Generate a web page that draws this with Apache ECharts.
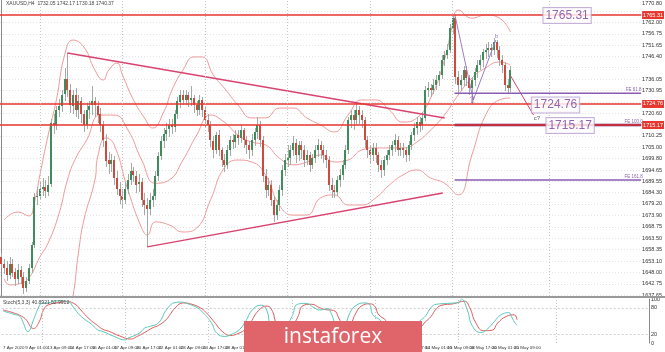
<!DOCTYPE html>
<html>
<head>
<meta charset="utf-8">
<script src="https://cdn.jsdelivr.net/npm/echarts@6/dist/echarts.min.js"></script>
<style>html,body{margin:0;padding:0;background:#fff}#main{width:665px;height:352px}</style>
</head>
<body>
<div id="main"></div>
<script>
// XAUUSD H4, [open, close, low, high]
const candles = [
  [1655,1652,1650,1657],
  [1652,1650,1647,1654],[1650,1647,1644,1653],[1647,1652,1645,1655],[1652,1648,1646,1654],[1648,1645,1642,1650],
  [1645,1649,1643,1652],[1649,1646,1643,1651],[1646,1641,1638,1648],[1641,1644,1639,1646],[1644,1650,1643,1652],
  [1650,1660.5,1648,1662],[1660.5,1682.5,1659,1684],[1682.5,1683,1679,1687],[1683,1686,1681,1689],[1686,1687,1683,1691],
  [1687,1685,1682,1690],[1685,1688,1683,1692],[1688,1716,1687,1718],[1716,1715,1711,1720],[1715,1722,1713,1724],
  [1722,1724,1719,1727],[1724,1729,1721,1731],[1729,1736,1726,1741],[1736,1731,1728,1748],[1731,1724,1721,1734],
  [1724,1729,1720,1731],[1729,1722,1719,1732],[1722,1726,1718,1729],[1726,1720,1716,1728],[1720,1715,1712,1722],
  [1715,1722,1713,1725],[1722,1724,1718,1726],[1724,1726,1720,1733],[1726,1724,1719,1728],[1724,1720,1716,1726],
  [1720,1715,1712,1723],[1715,1708,1705,1717],[1708,1699,1696,1711],[1699,1697,1693,1703],[1697,1699,1694,1702],
  [1699,1691,1688,1701],[1691,1686,1683,1694],[1686,1683,1679,1689],[1683,1681,1677,1686],[1681,1686,1679,1689],
  [1686,1690,1684,1693],[1690,1694,1688,1698],[1694,1692,1689,1696],[1692,1688,1684,1694],[1688,1689,1685,1693],
  [1689,1681,1678,1691],[1681,1678.7,1674,1684],[1678.7,1677,1659.6,1682],[1677,1681,1674,1684],[1681,1683,1678,1686],
  [1683,1692,1681,1694],[1692,1701,1690,1703],[1701,1708,1699,1710],[1708,1711,1705,1714],[1711,1713,1708,1716],
  [1713,1715,1710,1718],[1715,1714,1711,1718],[1714,1720,1712,1722],[1720,1726,1718,1728],[1726,1729,1723,1731],
  [1729,1726.6,1724,1731],[1726.6,1728.8,1724,1731],[1728.8,1726.6,1723,1730],[1726.6,1727.5,1724,1733],[1727.5,1724.3,1721,1729],
  [1724.3,1722,1719,1726],[1722,1726.6,1720,1729],[1726.6,1722,1719,1728],[1722,1717.5,1714,1724],[1717.5,1715,1712,1720],
  [1715,1708,1705,1717],[1708,1703.8,1700,1710],[1703.8,1710.6,1702,1712],[1710.6,1703.8,1701,1713],[1703.8,1699.2,1696,1705],
  [1699.2,1697,1694,1702],[1697,1703.8,1695,1706],[1703.8,1708.3,1701,1710],[1708.3,1707.4,1704,1711],[1707.4,1710.6,1705,1713],
  [1710.6,1709.2,1706,1713],[1709.2,1712.9,1707,1715],[1712.9,1708.3,1705,1714],[1708.3,1706,1702,1710],[1706,1703.8,1700,1708],
  [1703.8,1708.3,1701,1711],[1708.3,1712,1706,1714],[1712,1715,1709,1719],[1715,1708.3,1705,1717],[1708.3,1692,1689,1710],
  [1692,1685.5,1682,1695],[1685.5,1688,1683,1691],[1688,1681,1678,1690],[1681,1674,1671,1683],[1674,1678.7,1672,1681],
  [1678.7,1685.5,1676,1688],[1685.5,1694.7,1683,1697],[1694.7,1699.2,1692,1702],[1699.2,1700,1696,1706],[1700,1703.8,1697,1706],
  [1703.8,1707,1701,1710],[1707,1701.5,1698,1709],[1701.5,1706,1699,1708],[1706,1703.8,1700,1708],[1703.8,1699.2,1696,1706],
  [1699.2,1701.5,1697,1704],[1701.5,1697,1694,1703],[1697,1700,1695,1702],[1700,1703.8,1698,1706],[1703.8,1706,1701,1709],
  [1706,1703.8,1700,1708],[1703.8,1701.5,1698,1706],[1701.5,1699.2,1696,1704],[1699.2,1688,1685,1701],[1688,1685.5,1682,1691],
  [1685.5,1684.6,1681.9,1688],[1684.6,1690,1683,1692],[1690,1692.4,1687,1695],[1692.4,1697,1690,1699],[1697,1703.8,1695,1706],
  [1703.8,1717.5,1702,1719],[1717.5,1719.7,1714,1722],[1719.7,1717.5,1713,1722],[1717.5,1722,1715,1725],[1722,1719.7,1716,1724],
  [1719.7,1717.5,1714,1722],[1717.5,1708.3,1705,1719],[1708.3,1703.8,1700,1710],[1703.8,1701.5,1698,1706],[1701.5,1704.7,1699,1707],
  [1704.7,1701.5,1698,1707],[1701.5,1697,1694,1703],[1697,1694.7,1691,1699],[1694.7,1699.2,1692,1701],[1699.2,1701.5,1697,1704],
  [1701.5,1703.8,1699,1706],[1703.8,1706,1701,1708],[1706,1708.3,1703,1711],[1708.3,1703.8,1701,1710],[1703.8,1704.7,1701,1707],
  [1704.7,1703.8,1700,1707],[1703.8,1701.5,1698,1705],[1701.5,1706,1699,1708],[1706,1710.6,1704,1712],[1710.6,1713.8,1708,1716],
  [1713.8,1716.6,1711,1719],[1716.6,1715,1712,1719],[1715,1718.4,1713,1721],[1718.4,1731,1717,1733],[1731,1732,1728,1735],
  [1732,1731,1728,1734],[1731,1733.4,1729,1736],[1733.4,1735.7,1731,1738],[1735.7,1737.9,1733,1740],[1737.9,1744.8,1736,1747],
  [1744.8,1747,1742,1749],[1747,1749.4,1745,1752],[1749.4,1759.4,1748,1761],[1759.4,1764,1757,1765],[1764,1737,1734,1765.3],
  [1737,1733.4,1730,1740],[1733.4,1735.7,1731,1738],[1735.7,1740.2,1733,1742],[1740.2,1736.4,1733,1742],[1736.4,1732,1729,1738],
  [1732,1735.7,1724.8,1737],[1735.7,1739.3,1733,1741],[1739.3,1742.5,1737,1745],[1742.5,1744.8,1740,1747],[1744.8,1748.4,1742,1750],
  [1748.4,1749.4,1745,1752],[1749.4,1750.3,1746,1753],[1750.3,1749.4,1746,1752],[1749.4,1753,1747,1754.8],[1753,1749.4,1746,1754],
  [1749.4,1744.8,1742,1751],[1744.8,1742.5,1739,1747],[1742.5,1733.4,1731,1744],[1733.4,1732,1729,1736],[1732,1740.4,1730,1742]
];

// bollinger bands [bar, price]
const bbUpper = [[1,1671.9],[6,1675.5],[10,1673.7],[12,1680],[14,1692.4],[17,1710.6],[20,1726.6],[23,1747.1],[26,1753.9],[30,1750.7],[34,1740.2],[37,1735.7],[39,1740.2],[42,1743.4],[44,1738],[48,1726.6],[52,1718.4],[55,1713.8],[59,1721.1],[62,1731.1],[66,1740.2],[70,1746.2],[73,1746.2],[77,1738],[81,1732],[86,1724.3],[91,1718.4],[96,1718.4],[101,1722.9],[106,1722.9],[111,1718.4],[116,1715.2],[121,1712],[126,1719.7],[131,1726.6],[136,1726.6],[141,1722],[146,1716.5],[151,1718.4],[156,1727.5],[161,1744.8],[164,1760.8],[166,1767.6],[171,1763.9],[176,1765.3],[181,1763.9],[185,1757.6]];
const bbMiddle = [[1,1645],[3,1642.3],[7,1643],[10,1645.4],[14,1655],[17,1661.4],[21,1675],[24,1690.1],[27,1700],[31,1708.3],[36,1719.7],[41,1719.7],[46,1712.9],[51,1699.2],[56,1688.6],[61,1690.1],[66,1699.2],[71,1710.6],[76,1719.7],[81,1716.5],[86,1710.6],[91,1707.4],[96,1706.1],[101,1700.1],[106,1697],[111,1698.3],[116,1701.5],[121,1698.3],[126,1699.2],[131,1703.8],[136,1704.7],[141,1704.7],[146,1704.7],[151,1707.4],[156,1712.9],[161,1719.7],[166,1728.8],[171,1736.6],[176,1741.2],[181,1743.9],[185,1742.5]];
const bbLower = [[1,1630.9],[6,1630],[11,1627.2],[16,1617.2],[21,1603.5],[26,1636.8],[28,1656.8],[30,1671.9],[34,1690.1],[35,1700.6],[38,1709.3],[41,1706.1],[46,1685.5],[51,1668.2],[53,1665],[56,1671],[61,1669.6],[66,1666.4],[71,1668.2],[76,1681],[81,1695.6],[86,1699.2],[91,1698.3],[96,1692.4],[101,1678.7],[106,1674.1],[111,1674.1],[116,1681.9],[121,1683.3],[126,1678.7],[131,1678.7],[136,1681.9],[141,1687.8],[146,1692.4],[151,1694.7],[156,1691],[161,1688.7],[166,1683.3],[171,1701.5],[176,1719.7],[181,1726.6],[185,1727.5]];

// stochastic [bar, value]
const stochMain = [[0,73],[2,69],[4,65],[6,61],[7,50],[9,26],[11,53],[13,84],[14,90],[17,92],[20,96],[24,92],[25,84],[28,61],[32,42],[34,30],[36,26],[40,15],[44,7],[45,11],[49,22],[51,34],[53,38],[56,46],[59,77],[62,92],[64,93],[67,88],[70,80],[72,69],[75,46],[77,22],[80,15],[82,19],[85,30],[87,46],[90,77],[93,86],[95,73],[96,46],[98,20],[101,30],[104,60],[106,88],[109,90],[112,80],[114,75],[117,78],[118,69],[121,30],[123,40],[125,70],[127,85],[130,91],[132,87],[133,65],[136,50],[138,25],[141,35],[145,40],[148,35],[150,50],[152,61],[154,80],[156,88],[160,90],[164,92],[165,100],[167,77],[169,38],[172,24],[174,30],[177,50],[179,63],[182,69],[183,60],[184,48],[185,40]];
const stochSignal = [[0,75],[3,70],[6,63],[8,55],[11,33],[13,48],[15,80],[17,88],[20,92],[23,94],[26,88],[28,75],[31,55],[34,40],[36,31],[38,27],[42,16],[46,9],[48,14],[51,24],[54,35],[56,40],[59,55],[62,80],[65,91],[68,88],[71,80],[73,70],[76,48],[79,26],[82,17],[84,20],[87,30],[89,46],[92,74],[95,84],[97,72],[98,50],[100,26],[103,29],[106,58],[108,85],[111,88],[114,80],[116,76],[119,74],[121,55],[123,33],[125,42],[127,68],[129,84],[132,89],[134,82],[135,66],[138,50],[140,29],[143,34],[147,39],[150,37],[152,48],[154,60],[156,78],[158,86],[162,89],[166,95],[168,80],[170,48],[173,28],[176,29],[178,45],[181,60],[184,64],[185,53]];

const xLabels = ['7 Apr 2020','9 Apr 01:00','13 Apr 09:00','14 Apr 17:00','16 Apr 01:00','17 Apr 09:00','20 Apr 17:00','22 Apr 01:00','23 Apr 09:00','24 Apr 17:00','28 Apr 01:00','29 Apr 09:00','30 Apr 17:00','4 May 01:00','5 May 09:00','6 May 17:00','8 May 01:00','11 May 09:00','12 May 17:00','14 May 01:00','15 May 09:00','18 May 17:00','20 May 01:00','21 May 09:00'];
const priceGrid = [1637.65,1642.75,1648.00,1653.10,1658.35,1663.50,1668.75,1673.90,1679.20,1684.30,1689.55,1694.65,1699.80,1705.00,1710.25,1715.35,1720.60,1725.75,1730.95,1736.05,1741.30,1746.40,1751.65,1756.75,1762.00,1767.10];
const priceLabels = [1637.65,1642.75,1648.00,1653.10,1658.35,1663.50,1668.75,1673.90,1679.20,1684.30,1689.55,1694.65,1699.80,1705.00,1710.25,1720.60,1730.95,1736.05,1746.40,1751.65,1756.75,1762.00,1770.80];
const stochLabels = [0,20,80,100];

const levels = [1765.31,1724.76,1715.17];
const lastPrice = 1740.37;
const weekStarts = [14,44,74,104,134,164,199];

const trendLines = [
  [[24,1748],[161.1,1718.4]],
  [[53,1659.6],[160.4,1684.2]]
];
const waveAB = [[165,1764.4],[171.5,1726.6],[179.7,1753.9]];
const waveC = [[185.1,1737.5],[193.4,1719.7]];
const fibLevels = [1729.6,1715.17,1690.1];
const fibNames = ['FE 61.8','FE 100.0','FE 161.8'];

const N = 233;
const cats = [];
for (let i = 0; i < N; i++) cats.push(i % 8 === 0 && xLabels[i / 8] ? xLabels[i / 8] : '');

function renderCandle(params, api) {
  const i = api.value(0);
  const o = api.value(1), c = api.value(2), l = api.value(3), h = api.value(4);
  const top = api.coord([i, Math.max(o, c)]);
  const bot = api.coord([i, Math.min(o, c)]);
  const hi = api.coord([i, h]);
  const lo = api.coord([i, l]);
  const x = Math.round(top[0]);
  return {
    type: 'group',
    children: [
      {type: 'rect', shape: {x: x, y: Math.round(hi[1]), width: 1, height: Math.max(1, Math.round(lo[1] - hi[1]))}, style: {fill: '#a4aba7'}},
      {type: 'rect', shape: {x: x - 1, y: Math.round(top[1]), width: 2, height: Math.max(1, Math.round(bot[1] - top[1]))}, style: {fill: c >= o ? '#3f8d5b' : '#cd4a3f'}}
    ]
  };
}

const tiny = {fontSize: 5.5, fontFamily: 'Arial', color: '#333'};
const bandStyle = {color: '#f09a9a', width: 1};

function overlay(data, color, width) {
  return {type: 'line', xAxisIndex: 2, yAxisIndex: 0, data: data, symbol: 'none', silent: true,
    lineStyle: {color: color, width: width}, z: 4};
}

const series = [
  {type: 'custom', xAxisIndex: 0, yAxisIndex: 0, renderItem: renderCandle,
    encode: {x: 0, y: [1, 2, 3, 4]}, data: candles.map((d, i) => [i].concat(d)), z: 3, clip: true},
  {type: 'line', xAxisIndex: 2, yAxisIndex: 0, data: bbUpper, smooth: true, symbol: 'none', lineStyle: bandStyle, silent: true, z: 2,
    markLine: {silent: true, symbol: ['none', 'none'], animation: false,
      data: levels.map(v => ({yAxis: v, lineStyle: {color: '#e8362f', width: 1.5, type: 'solid'},
        label: {show: true, position: 'end', distance: 1, formatter: v.toFixed(2), backgroundColor: '#e8362f', color: '#fff', fontSize: 5.5, padding: [1, 1]}}))
        .concat([{yAxis: lastPrice, lineStyle: {opacity: 0},
          label: {show: true, position: 'end', distance: 1, formatter: lastPrice.toFixed(2), backgroundColor: '#d4d4d4', color: '#111', fontSize: 5.5, padding: [1, 1]}}])
    }},
  {type: 'line', xAxisIndex: 2, yAxisIndex: 0, data: bbMiddle, smooth: true, symbol: 'none', lineStyle: bandStyle, silent: true, z: 2,
    markLine: {silent: true, symbol: ['none', 'none'], animation: false, label: {show: false},
      lineStyle: {color: '#c4c4c4', type: [1, 2], width: 1},
      data: weekStarts.map(v => ({xAxis: v}))}},
  {type: 'line', xAxisIndex: 2, yAxisIndex: 0, data: bbLower, smooth: true, symbol: 'none', lineStyle: bandStyle, silent: true, z: 2},
  overlay(trendLines[0], '#d8436f', 1.5),
  overlay(trendLines[1], '#d8436f', 1.5),
  overlay(waveAB, '#a07cc4', 1),
  overlay(waveC, '#d8436f', 1),
  overlay([[164.7, fibLevels[0]], [232.5, fibLevels[0]]], '#8a5cb4', 1.5),
  overlay([[164.7, fibLevels[1]], [232.5, fibLevels[1]]], '#5e1b6e', 2.5),
  overlay([[164.7, fibLevels[2]], [232.5, fibLevels[2]]], '#8a5cb4', 1.5),
  {type: 'scatter', xAxisIndex: 2, yAxisIndex: 0, symbolSize: 0.1, itemStyle: {color: 'transparent'}, silent: true, z: 6,
    label: {show: true, position: 'inside'},
    data: [
      {value: [205.6, 1765.1], label: {formatter: '1765.31'}},
      {value: [201.4, 1724.3], label: {formatter: '1724.76'}},
      {value: [206.7, 1714.9], label: {formatter: '1715.17'}}
    ].map(d => Object.assign(d, {label: Object.assign(d.label, {color: '#7b3a9e', fontSize: 12, fontFamily: 'Arial',
      backgroundColor: '#fff', borderColor: '#b89fd0', borderWidth: 1, padding: [2, 2, 1, 2]})}))
      .concat(fibLevels.map((v, k) => ({value: [229.8, v + 1.6], label: {formatter: fibNames[k], fontSize: 4.5, color: '#6a3d8f'}})))
      .concat([
        {value: [171, 1726.4], label: {formatter: '⇧', fontSize: 10, color: '#8a4fb0'}},
        {value: [180, 1755.5], label: {formatter: 'b', fontSize: 6, color: '#8a4fb0'}},
        {value: [194.6, 1718.4], label: {formatter: 'c?', fontSize: 6, color: '#333'}}
      ])
  },
  {type: 'line', xAxisIndex: 1, yAxisIndex: 1, data: stochSignal, smooth: true, symbol: 'none', silent: true,
    lineStyle: {color: '#e25c5c', width: 1}},
  {type: 'line', xAxisIndex: 1, yAxisIndex: 1, data: stochMain, smooth: true, symbol: 'none', silent: true,
    lineStyle: {color: '#5cc6b9', width: 1},
    markLine: {silent: true, symbol: ['none', 'none'], animation: false, label: {show: false},
      lineStyle: {color: '#c4c4c4', type: [1, 2], width: 1},
      data: weekStarts.map(v => ({xAxis: v}))}}
];

const chart = echarts.init(document.getElementById('main'));
chart.setOption({
  animation: false,
  backgroundColor: '#fff',
  grid: [
    {left: 0, right: 16, top: 0, height: 296},
    {left: 0, right: 16, top: 299, height: 44}
  ],
  xAxis: [
    {type: 'category', gridIndex: 0, data: cats, axisLine: {show: false}, axisTick: {show: false}, axisLabel: {show: false}, splitLine: {show: false}},
    {type: 'category', gridIndex: 1, data: cats, axisLine: {show: false}, axisTick: {show: false},
      axisLabel: {interval: 7, align: 'left', margin: 3, fontSize: 4.4, fontFamily: 'Arial', color: '#333', showMinLabel: true, hideOverlap: false},
      splitLine: {show: false}},
    {type: 'value', gridIndex: 0, position: 'top', min: -0.5, max: N - 0.5, show: false}
  ],
  yAxis: [
    {type: 'value', gridIndex: 0, position: 'right', min: 1637.2, max: 1772.15,
      axisLine: {show: true, lineStyle: {color: '#8a8a8a'}},
      axisTick: {show: false, customValues: priceGrid},
      axisLabel: Object.assign({customValues: priceLabels, margin: 1, formatter: v => v.toFixed(2)}, tiny),
      splitLine: {show: true, lineStyle: {color: '#e3e3e3', type: [1, 2]}}},
    {type: 'value', gridIndex: 1, position: 'right', min: 0, max: 100,
      axisLine: {show: true, lineStyle: {color: '#8a8a8a'}},
      axisTick: {show: false, customValues: [20, 80]},
      axisLabel: Object.assign({customValues: stochLabels, margin: 2}, tiny),
      splitLine: {show: true, lineStyle: {color: '#cfcfcf', type: [2, 2]}}}
  ],
  graphic: [
    {type: 'rect', left: 0, top: 296, shape: {width: 665, height: 2}, style: {fill: '#9a9a9a'}, z: 50},
    {type: 'text', left: 6, top: 1, style: {text: 'XAUUSD,H4  1732.05 1742.17 1730.18 1740.37', fontSize: 5, fontFamily: 'Arial', fill: '#444'}, z: 50},
    {type: 'text', left: 3, top: 300, style: {text: 'Stoch(5,3,3) 40.8921 52.9912', fontSize: 5, fontFamily: 'Arial', fill: '#444'}, z: 50},
    {type: 'rect', left: 244, top: 321, shape: {width: 178, height: 31}, style: {fill: '#e0656b'}, z: 100},
    {type: 'text', x: 333, y: 337, style: {text: 'instaforex', fontSize: 21, fontFamily: '"Open Sans"', fill: '#fff', align: 'center', verticalAlign: 'middle'}, z: 101}
  ],
  series: series
});
</script>
</body>
</html>
